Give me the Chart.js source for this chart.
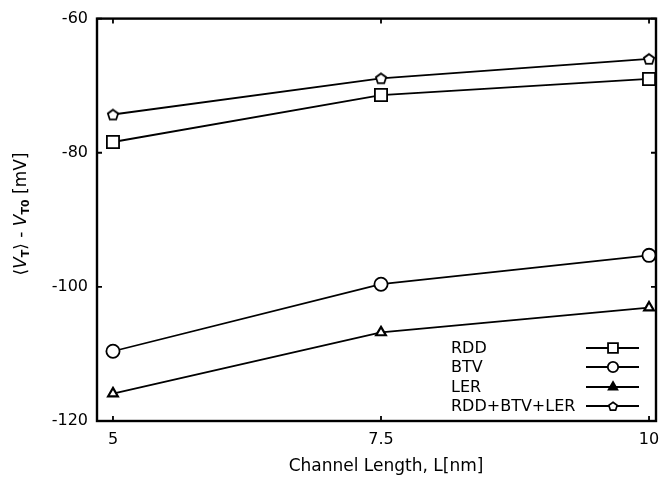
<!DOCTYPE html>
<html>
<head>
<meta charset="utf-8">
<script src="https://cdn.jsdelivr.net/npm/chart.js@4/dist/chart.umd.min.js"></script>
<style>
  html, body { margin: 0; padding: 0; background: #fff; }
  #wrap { width: 669px; height: 486px; }
</style>
</head>
<body>
<div id="wrap"><canvas id="c"></canvas></div>
<script>
// Threshold-voltage shift vs. channel length for each variability source
const channelLengths = [5, 7.5, 10];
const seriesNames = ['RDD', 'BTV', 'LER', 'RDD+BTV+LER'];
const rddShift = [-78.4, -71.4, -69.0];
const btvShift = [-109.6, -99.6, -95.3];
const lerShift = [-115.9, -106.8, -103.1];
const combinedShift = [-74.3, -68.9, -66.0];
const xTickValues = [5, 7.5, 10];
const yTickValues = [-120, -100, -80, -60];

const FONT = '"DejaVu Sans", "Liberation Sans", Arial, sans-serif';

// small outlined pentagon used as a marker
function pentagonMarker(size, lw) {
  const c = document.createElement('canvas');
  c.width = size; c.height = size;
  const g = c.getContext('2d');
  const cx = size / 2, cy = size / 2 + 0.6, r = size / 2 - 1.6;
  g.beginPath();
  for (let i = 0; i < 5; i++) {
    const a = -Math.PI / 2 + i * 2 * Math.PI / 5;
    const px = cx + r * Math.cos(a), py = cy + r * Math.sin(a);
    if (i) g.lineTo(px, py); else g.moveTo(px, py);
  }
  g.closePath();
  g.fillStyle = '#fff'; g.fill();
  g.lineWidth = lw; g.strokeStyle = '#000'; g.stroke();
  return c;
}

function pairs(ys) { return channelLengths.map((x, i) => ({ x: x, y: ys[i] })); }

const penta = pentagonMarker(14, 1.8);
const pentaSmall = pentagonMarker(12, 1.7);

const base = {
  borderColor: '#000', borderWidth: 1.8, pointBorderColor: '#000',
  pointBackgroundColor: '#fff', pointBorderWidth: 1.8, tension: 0, fill: false
};

const datasets = [
  Object.assign({}, base, { label: seriesNames[0], data: pairs(rddShift), pointStyle: 'rect', pointRadius: 8.6, legendRadius: 7, legendFill: '#fff' }),
  Object.assign({}, base, { label: seriesNames[1], data: pairs(btvShift), pointStyle: 'circle', pointRadius: 6.6, legendRadius: 5.2, legendFill: '#fff' }),
  Object.assign({}, base, { label: seriesNames[2], data: pairs(lerShift), pointStyle: 'triangle', pointRadius: 5.6, pointBorderWidth: 2.2, legendRadius: 5, legendFill: '#000' }),
  Object.assign({}, base, { label: seriesNames[3], data: pairs(combinedShift), pointStyle: penta, pointRadius: 6, legendStyle: pentaSmall, legendRadius: 5, legendFill: '#fff' })
];

// frame, inner tick marks, legend and axis titles
const decorations = {
  id: 'decorations',
  afterDraw(chart) {
    const ctx = chart.ctx;
    const a = chart.chartArea;
    const xs = chart.scales.x, ys = chart.scales.y;
    ctx.save();
    ctx.strokeStyle = '#000';

    // inner ticks
    ctx.lineWidth = 1.8;
    const tl = 5;
    ctx.beginPath();
    xTickValues.forEach(v => {
      const px = xs.getPixelForValue(v);
      ctx.moveTo(px, a.bottom); ctx.lineTo(px, a.bottom - tl);
      ctx.moveTo(px, a.top); ctx.lineTo(px, a.top + tl);
    });
    yTickValues.forEach(v => {
      const py = ys.getPixelForValue(v);
      ctx.moveTo(a.left, py); ctx.lineTo(a.left + tl, py);
      ctx.moveTo(a.right, py); ctx.lineTo(a.right - tl, py);
    });
    ctx.stroke();

    // frame
    ctx.lineWidth = 2.4;
    ctx.strokeRect(a.left, a.top, a.right - a.left, a.bottom - a.top);

    // legend: label on the left, line sample with marker on the right
    const rows = [348, 367, 387, 406];
    ctx.font = '16px ' + FONT;
    ctx.textAlign = 'left';
    ctx.textBaseline = 'middle';
    chart.data.datasets.forEach((ds, i) => {
      const y = rows[i];
      ctx.fillStyle = '#000';
      ctx.fillText(ds.label, 451, y + 1);
      ctx.lineWidth = 1.8;
      ctx.beginPath(); ctx.moveTo(586, y); ctx.lineTo(639, y); ctx.stroke();
      ctx.fillStyle = ds.legendFill;
      Chart.helpers.drawPoint(ctx, {
        pointStyle: ds.legendStyle || ds.pointStyle,
        radius: ds.legendRadius, borderWidth: 1.7, rotation: 0
      }, 613, y);
    });

    // x-axis title
    ctx.fillStyle = '#000';
    ctx.font = '17px ' + FONT;
    ctx.textAlign = 'center';
    ctx.textBaseline = 'middle';
    ctx.fillText('Channel Length, L[nm]', 386, 467);

    // y-axis title with italic V and subscripts
    const parts = [
      { t: '\u27E8', f: '17px ' + FONT, dy: 0 },
      { t: 'V', f: 'italic 17px ' + FONT, dy: 0 },
      { t: 'T', f: 'bold 11px ' + FONT, dy: 4 },
      { t: '\u27E9', f: '17px ' + FONT, dy: 0 },
      { t: ' - ', f: '17px ' + FONT, dy: 0 },
      { t: 'V', f: 'italic 17px ' + FONT, dy: 0 },
      { t: 'T0', f: 'bold 11px ' + FONT, dy: 4 },
      { t: ' [mV]', f: '17px ' + FONT, dy: 0 }
    ];
    let total = 0;
    parts.forEach(p => { ctx.font = p.f; p.w = ctx.measureText(p.t).width; total += p.w; });
    ctx.translate(22, 214);
    ctx.rotate(-Math.PI / 2);
    ctx.textAlign = 'left';
    ctx.textBaseline = 'middle';
    let x = -total / 2;
    parts.forEach(p => { ctx.font = p.f; ctx.fillText(p.t, x, p.dy); x += p.w; });
    ctx.restore();
  }
};

new Chart(document.getElementById('c'), {
  type: 'line',
  data: { datasets: datasets },
  options: {
    responsive: true,
    maintainAspectRatio: false,
    animation: false,
    devicePixelRatio: 1,
    layout: { padding: { top: 17, right: 13, left: 0, bottom: 0 } },
    plugins: { legend: { display: false }, tooltip: { enabled: false } },
    scales: {
      x: {
        type: 'linear',
        min: 4.851, max: 10.065,
        afterBuildTicks: s => { s.ticks = xTickValues.map(v => ({ value: v })); },
        afterFit: s => { s.height = 65; },
        grid: { display: false, drawTicks: false },
        border: { display: false },
        ticks: {
          color: '#000', padding: 9,
          font: { family: FONT, size: 16 },
          callback: v => String(v)
        }
      },
      y: {
        type: 'linear',
        min: -120, max: -60,
        afterBuildTicks: s => { s.ticks = yTickValues.map(v => ({ value: v })); },
        afterFit: s => { s.width = 97; },
        grid: { display: false, drawTicks: false },
        border: { display: false },
        ticks: {
          color: '#000', padding: 9,
          font: { family: FONT, size: 16 },
          callback: v => String(v)
        }
      }
    }
  },
  plugins: [decorations]
});
</script>
</body>
</html>
